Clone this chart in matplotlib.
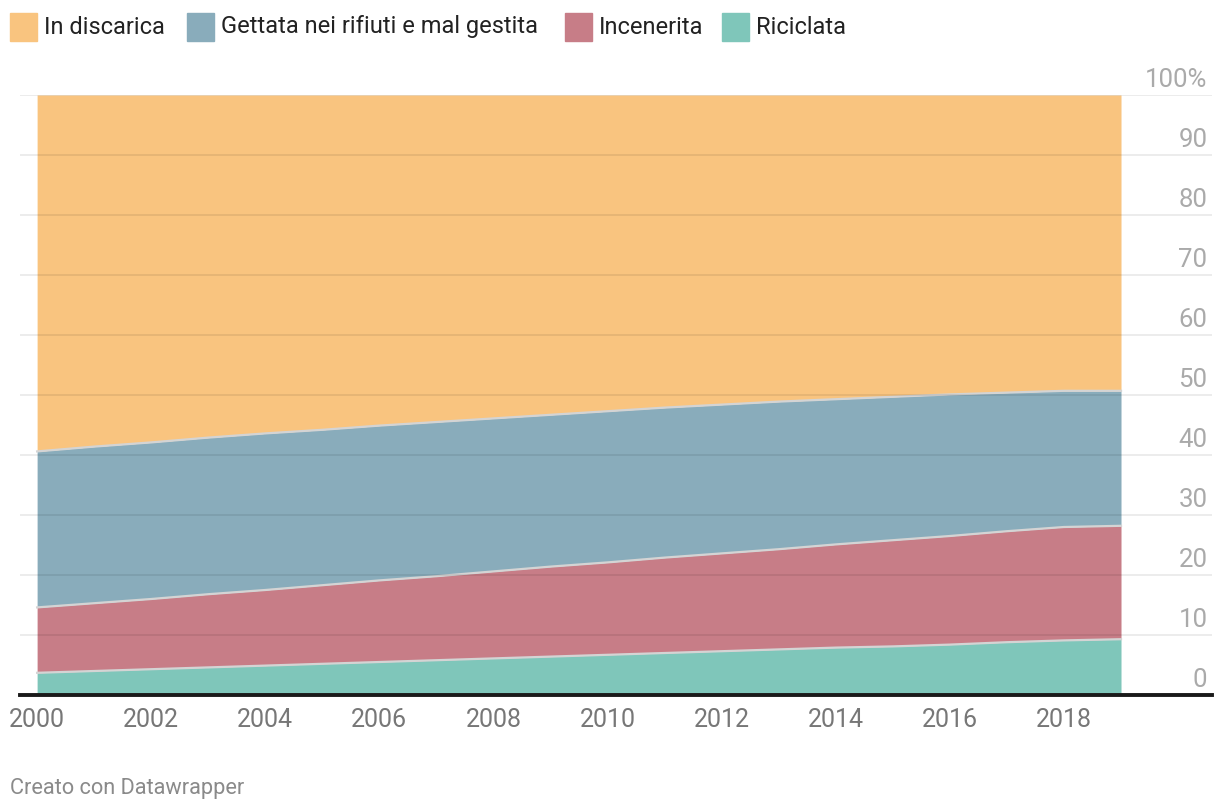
import matplotlib
matplotlib.use("Agg")
from matplotlib import pyplot as plt
from matplotlib import transforms
import numpy as np

plt.rcParams['font.family'] = ['Roboto', 'DejaVu Sans']

# Dati (quota percentuale per anno)
anni = list(range(2000, 2020))
riciclata = [3.7, 4.0, 4.3, 4.6, 4.9, 5.2, 5.5, 5.8, 6.1, 6.4,
             6.7, 7.0, 7.3, 7.6, 7.9, 8.1, 8.4, 8.8, 9.1, 9.3]
incenerita = [10.9, 11.3, 11.7, 12.2, 12.6, 13.1, 13.6, 14.0, 14.5, 15.0,
              15.4, 15.9, 16.3, 16.7, 17.2, 17.7, 18.1, 18.5, 18.9, 18.9]
gettata = [26.0, 26.1, 26.1, 26.1, 26.1, 25.9, 25.8, 25.7, 25.5, 25.3,
           25.2, 25.0, 24.8, 24.6, 24.2, 23.9, 23.6, 23.1, 22.7, 22.5]
discarica = [59.4, 58.6, 57.9, 57.1, 56.4, 55.8, 55.1, 54.5, 53.9, 53.3,
             52.7, 52.1, 51.6, 51.1, 50.7, 50.3, 49.9, 49.6, 49.3, 49.3]

serie = ['Riciclata', 'Incenerita', 'Gettata nei rifiuti e mal gestita', 'In discarica']
colori = ['#7fc6ba', '#c77d87', '#89acbb', '#f9c47f']
tick_anni = list(range(2000, 2019, 2))
tick_y = list(range(0, 101, 10))

fig = plt.figure(figsize=(12.2, 8.12), dpi=100)
ax = fig.add_axes([20 / 1220, 1 - 696 / 812, 1192 / 1220, 600 / 812])

valori = np.array([riciclata, incenerita, gettata, discarica])
cumulato = np.cumsum(valori, axis=0)
base = np.zeros(len(anni))
for i in range(4):
    ax.fill_between(anni, base, cumulato[i], color=colori[i], lw=0, zorder=1)
    if i < 3:
        ax.plot(anni, cumulato[i], color='#d4d4d4', lw=1.6, zorder=2)
    base = cumulato[i]

ax.set_xlim(1999.70, 2020.595)
ax.set_ylim(0, 100)

# griglia
for v in tick_y[1:]:
    ax.axhline(v, color='black', alpha=0.09, lw=1.2, zorder=3)
ax.axhline(0, color='#1a1a1a', lw=2.8, zorder=4, clip_on=False)

# etichette asse y a destra sopra le linee
offset = transforms.offset_copy(ax.get_yaxis_transform(), fig=fig, x=0, y=6.5, units='points')
for v in tick_y:
    lab = f'{v}%' if v == 100 else str(v)
    ax.text(0.9962, v, lab, transform=offset, ha='right', va='baseline',
            fontsize=18.5, color='#aaaaaa', clip_on=False)

ax.set_xticks(tick_anni)
ax.set_xticklabels([str(a) for a in tick_anni], fontsize=18, color='#777777')
ax.tick_params(axis='x', length=0, pad=9)
ax.set_yticks([])
for s in ax.spines.values():
    s.set_visible(False)

# legenda
leg_x = [10, 187, 565, 722]
for lx, nome, col in zip(leg_x, serie[::-1], colori[::-1]):
    fig.patches.append(plt.Rectangle((lx / 1220, 1 - 42 / 812), 27 / 1220, 28 / 812,
                                     transform=fig.transFigure, color=col))
    fig.text((lx + 34) / 1220, 1 - 27 / 812, nome, ha='left', va='center',
             fontsize=17, color='#222222')

fig.text(10 / 1220, 1 - 789 / 812, 'Creato con Datawrapper', ha='left', va='center',
         fontsize=15.7, color='#8a8a8a')

fig.savefig('out.png', dpi=100)
